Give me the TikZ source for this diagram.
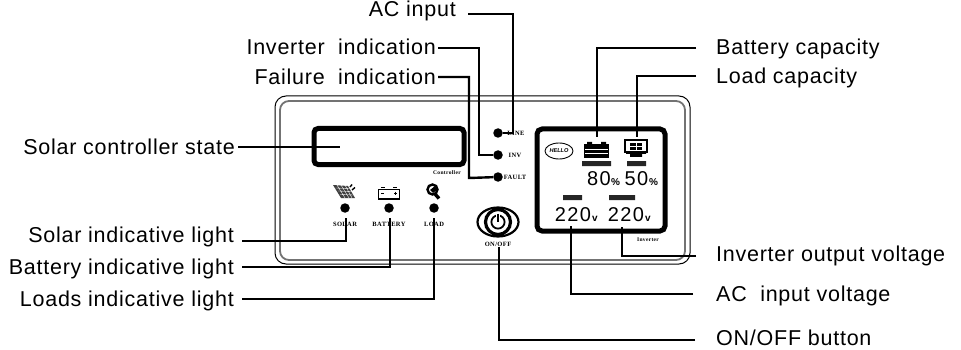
\documentclass[tikz,border=0pt]{standalone}
\usepackage{fontspec}
\usetikzlibrary{shapes.geometric}
\setmainfont[LetterSpace=3.5]{Liberation Sans}
\newfontfamily\lcdfont[LetterSpace=7]{Liberation Sans}
\newfontfamily\plainfont{Liberation Sans}
\newfontfamily\tagfont[LetterSpace=6]{Liberation Serif}
\tikzset{
 x=1pt,y=-1pt,
 capl/.style={inner sep=0pt,font=\fontsize{21.5}{23}\selectfont,anchor=base east},
 capr/.style={inner sep=0pt,font=\fontsize{21.5}{23}\selectfont,anchor=base west},
 lead/.style={draw=black,line width=2.4pt,line join=miter},
 led/.style={circle,fill=black,minimum size=9.5pt,inner sep=0pt},
 tag/.style={inner sep=0pt,font=\tagfont\bfseries\fontsize{6.5}{6.5}\selectfont},
 lcd/.style={inner sep=0pt,font=\lcdfont\fontsize{20}{20}\selectfont},
 unit/.style={inner sep=0pt,font=\plainfont\bfseries\fontsize{10}{10}\selectfont},
 bar/.style={fill=black!85,draw=none},
}
\begin{document}
\begin{tikzpicture}
\useasboundingbox (0,0) rectangle (961,350);
% panel
\draw[line width=1pt,rounded corners=11pt] (275,96) rectangle (690,264);
\draw[line width=1.8pt,draw=black!55,rounded corners=9pt] (280,101) rectangle (685,260);
% screens
\node[draw,line width=5pt,rounded corners=4pt,minimum width=150pt,minimum height=36pt,inner sep=0pt] (ctrl) at (389,146.5) {};
\node[draw,line width=5pt,rounded corners=5pt,minimum width=128pt,minimum height=102pt,inner sep=0pt] (scr) at (601,180) {};
% LEDs
\node[led] (line) at (498,133) {};
\node[led] (inv) at (498,155) {};
\node[led] (fault) at (498,177) {};
\node[led] (sol) at (345,208) {};
\node[led] (bat) at (389,208) {};
\node[led] (load) at (434,208) {};
\node[tag] at (516,133) {LINE};
\node[tag] at (515,155) {INV};
\node[tag] at (515,177) {FAULT};
\node[tag] at (345,224) {SOLAR};
\node[tag] at (389,224) {BATTERY};
\node[tag] at (434,224) {LOAD};
\node[tag] (onofftag) at (498,244) {ON/OFF};
\node[tag,font=\tagfont\bfseries\fontsize{5.5}{6}\selectfont] at (447,173) {Controller};
\node[tag,font=\tagfont\bfseries\fontsize{5.5}{6}\selectfont] at (648,240) {Inverter};
% solar icon
\fill[black!75] (333,185) -- (348,186) -- (355,198) -- (341,198) -- cycle;
\draw[white,line width=.35pt] (335.5,188) -- (350,188.5) (338,191) -- (352,191.5) (340,194.5) -- (354,195)
 (337,185) -- (345,198) (341,185) -- (349,198) (345,185) -- (352,198);
\draw[line width=1.4pt] (350,187) -- (352,184.5) (352,190) -- (355,187.5);
% battery icon
\draw[line width=1.5pt] (378.5,189.5) rectangle (399.5,199);
\draw[line width=1.8pt] (381,187.5) -- (385,187.5) (393,187.5) -- (397,187.5);
\draw[line width=.6pt] (381,193) -- (384,193) (394,193) -- (397,193) (395.5,191.5) -- (395.5,194.5);
% bulb icon
\draw[line width=2.4pt,fill=white] (432.5,189.5) circle (5);
\fill (430,190) -- (435,186) -- (437,190) -- (433,193) -- cycle;
\draw[line width=3.4pt] (435,194) -- (439,198.5);
% on/off icon
\node[draw,ellipse,line width=2.2pt,minimum width=41pt,minimum height=29pt,inner sep=0pt] (eye) at (498,222) {};
\draw[line width=3.2pt,fill=white] (498,222) circle (12.5);
\draw[line width=1.8pt] (498,222) circle (6.6);
\draw[white,line width=3.6pt] (498,214) -- (498,219);
\draw[line width=1.7pt] (498,213.5) -- (498,222);
% LCD icons
\node[draw,ellipse,line width=.9pt,minimum width=28pt,minimum height=16pt,inner sep=0pt,font=\plainfont\bfseries\itshape\fontsize{5.6}{6}\selectfont] at (559,151) {HELLO};
\fill (584,144.5) rectangle (609,158);
\fill (587,142) rectangle (592,144.5) (601,142) rectangle (606,144.5);
\draw[white,line width=.5pt] (585,149) -- (608,149) (585,153.5) -- (608,153.5);
\draw[line width=1.8pt] (625,140) rectangle (647,152);
\fill (626,151.5) rectangle (646,154) (630,154) rectangle (642,157);
\fill (630,143) rectangle (642,150);
\draw[white,line width=.7pt] (630,146.5) -- (642,146.5) (636,143) -- (636,150);
\fill[bar] (582,161) rectangle (611,166) (627,161) rectangle (646,166) (563,195) rectangle (582,200) (609,195) rectangle (635,200);
% LCD text
\node[lcd,anchor=base] at (599,185) {80};
\node[unit,anchor=base] at (615.5,185) {\%};
\node[lcd,anchor=base] at (636.5,185) {50};
\node[unit,anchor=base] at (653.5,185) {\%};
\node[lcd,anchor=base] at (573,221) {220};
\node[unit,anchor=base] at (595,221) {v};
\node[lcd,anchor=base] at (626,221) {220};
\node[unit,anchor=base] at (648,221) {v};
% anchors in the panel
\coordinate (cState) at (340,147);
\coordinate (cBatt) at (597,137);
\coordinate (cLoad) at (637,137);
\coordinate (cAC) at (571,226);
\coordinate (cInvO) at (622,227);
\coordinate (cSol) at (346,218);
\coordinate (cBa) at (390,218);
\coordinate (cLo) at (434,218);
\coordinate (cOn) at (499,247);
% captions
\node[capl] (tAC) at (456,16.5) {AC input};
\node[capl] (tInv) at (436,54.5) {Inverter\ \ indication};
\node[capl] (tFail) at (436,84.5) {Failure\ \ indication};
\node[capl] (tState) at (235,154.5) {Solar controller state};
\node[capl] (tSol) at (234,242.5) {Solar indicative light};
\node[capl] (tBat) at (234,274.5) {Battery indicative light};
\node[capl] (tLoad) at (234,306.5) {Loads indicative light};
\node[capr] (tBC) at (716,54.5) {Battery capacity};
\node[capr] (tLC) at (716,83.5) {Load capacity};
\node[capr] (tIO) at (716,261.5) {Inverter output voltage};
\node[capr] (tACV) at (716,301.5) {AC\ \ input voltage};
\node[capr] (tOn) at (716,345.5) {ON/OFF button};
% leaders
\coordinate (lAC) at (468,14);
\coordinate (lInv) at (438,48);
\coordinate (lFail) at (438,77);
\coordinate (lSt) at (238,147);
\coordinate (lSol) at (242,241);
\coordinate (lBat) at (242,267);
\coordinate (lLoad) at (242,299);
\coordinate (rBC) at (696,48);
\coordinate (rLC) at (696,76);
\coordinate (rIO) at (696,256);
\coordinate (rACV) at (693,294);
\coordinate (rOn) at (695,340);
\draw[lead] (lAC) -| (513,133) -- (line);
\draw[lead] (lInv) -| (479,155) -- (inv);
\draw[lead] (lFail) -| (469,178) -- (fault);
\draw[lead] (lSt) -- (cState);
\draw[lead] (lSol) -| (cSol);
\draw[lead] (lBat) -| (cBa);
\draw[lead] (lLoad) -| (cLo);
\draw[lead] (rBC) -| (cBatt);
\draw[lead] (rLC) -| (cLoad);
\draw[lead,line width=1.8pt] (rIO) -| (cInvO);
\draw[lead] (rACV) -| (cAC);
\draw[lead] (rOn) -| (cOn);
\end{tikzpicture}
\end{document}
